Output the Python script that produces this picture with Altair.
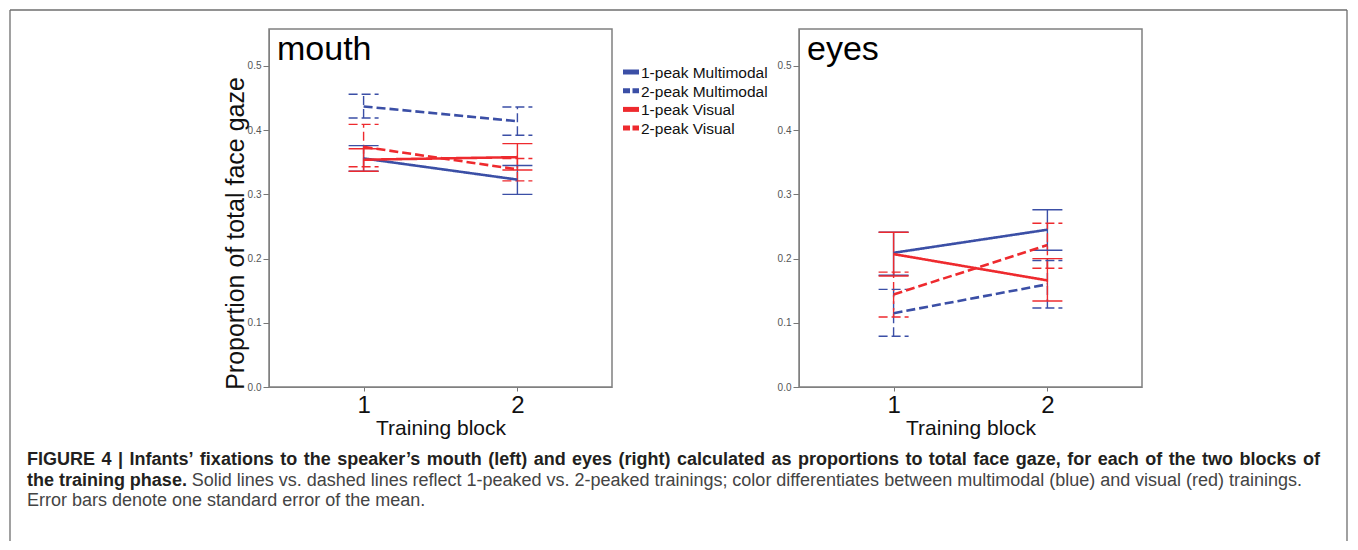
import altair as alt
import pandas as pd

FONT = "Liberation Sans"

# ---- data ----
series_names = ["1-peak Multimodal", "2-peak Multimodal", "1-peak Visual", "2-peak Visual"]
series_colors = ["#3b4fa6", "#3b4fa6", "#ee2a2e", "#ee2a2e"]
series_dash = [[1, 0], [9, 4], [1, 0], [9, 4]]
series_dashed = [False, True, False, True]
blocks = [1, 2]

# mouth panel: mean, lower (mean - SE), upper (mean + SE) for blocks 1 and 2
mouth_1peak_multi = [0.356, 0.323]
mouth_1peak_multi_lo = [0.336, 0.300]
mouth_1peak_multi_hi = [0.376, 0.345]
mouth_2peak_multi = [0.437, 0.414]
mouth_2peak_multi_lo = [0.419, 0.392]
mouth_2peak_multi_hi = [0.456, 0.436]
mouth_1peak_vis = [0.354, 0.358]
mouth_1peak_vis_lo = [0.336, 0.338]
mouth_1peak_vis_hi = [0.371, 0.379]
mouth_2peak_vis = [0.374, 0.339]
mouth_2peak_vis_lo = [0.343, 0.321]
mouth_2peak_vis_hi = [0.409, 0.356]

# eyes panel
eyes_1peak_multi = [0.209, 0.245]
eyes_1peak_multi_lo = [0.174, 0.213]
eyes_1peak_multi_hi = [0.241, 0.276]
eyes_2peak_multi = [0.115, 0.160]
eyes_2peak_multi_lo = [0.079, 0.123]
eyes_2peak_multi_hi = [0.152, 0.197]
eyes_1peak_vis = [0.207, 0.166]
eyes_1peak_vis_lo = [0.173, 0.134]
eyes_1peak_vis_hi = [0.241, 0.200]
eyes_2peak_vis = [0.144, 0.221]
eyes_2peak_vis_lo = [0.109, 0.185]
eyes_2peak_vis_hi = [0.179, 0.255]

panel_titles = ["mouth", "eyes"]
y_ticks = [0.0, 0.1, 0.2, 0.3, 0.4, 0.5]
x_title = "Training block"
y_title = "Proportion of total face gaze"

caption_bold_1 = ("FIGURE 4 | Infants\u2019 fixations to the speaker\u2019s mouth (left) and eyes (right) "
                  "calculated as proportions to total face gaze, for each of the two blocks of")
caption_bold_2 = "the training phase."
caption_reg_2 = ("Solid lines vs. dashed lines reflect 1-peaked vs. 2-peaked trainings; color differentiates "
                 "between multimodal (blue) and visual (red) trainings.")
caption_reg_3 = "Error bars denote one standard error of the mean."

panels = {
    "mouth": [
        (mouth_1peak_multi, mouth_1peak_multi_lo, mouth_1peak_multi_hi),
        (mouth_2peak_multi, mouth_2peak_multi_lo, mouth_2peak_multi_hi),
        (mouth_1peak_vis, mouth_1peak_vis_lo, mouth_1peak_vis_hi),
        (mouth_2peak_vis, mouth_2peak_vis_lo, mouth_2peak_vis_hi),
    ],
    "eyes": [
        (eyes_1peak_multi, eyes_1peak_multi_lo, eyes_1peak_multi_hi),
        (eyes_2peak_multi, eyes_2peak_multi_lo, eyes_2peak_multi_hi),
        (eyes_1peak_vis, eyes_1peak_vis_lo, eyes_1peak_vis_hi),
        (eyes_2peak_vis, eyes_2peak_vis_lo, eyes_2peak_vis_hi),
    ],
}

rows = []
for pname, sers in panels.items():
    for sname, (m, lo, hi) in zip(series_names, sers):
        for i, b in enumerate(blocks):
            rows.append({"panel": pname, "series": sname, "block": b,
                         "mean": m[i], "lo": lo[i], "hi": hi[i]})
df = pd.DataFrame(rows)

W, H = 343, 358
XDOM = [0.385, 2.615]
YDOM = [0.0, 0.5576]

# ---------- caption typesetting (justified lines, Arial/Liberation metrics) ----------
_REG = dict(zip("ABCDEFGHIJKLMNOPQRSTUVWXYZ",
                [667, 667, 722, 722, 667, 611, 778, 722, 278, 500, 667, 556, 833, 722, 778, 667, 778,
                 722, 667, 611, 722, 667, 944, 667, 667, 611]))
_REG.update(zip("abcdefghijklmnopqrstuvwxyz",
                [556, 556, 500, 556, 556, 278, 556, 556, 222, 222, 500, 222, 833, 556, 556, 556, 556,
                 333, 500, 278, 556, 500, 722, 500, 500, 500]))
_REG.update({" ": 278, "(": 333, ")": 333, ",": 278, "-": 333, ".": 278, ";": 278, "|": 260,
             "\u2019": 222})
_REG.update({d: 556 for d in "0123456789"})
_BLD = dict(zip("ABCDEFGHIJKLMNOPQRSTUVWXYZ",
                [722, 722, 722, 722, 667, 611, 778, 722, 278, 556, 722, 611, 833, 722, 778, 667, 778,
                 722, 667, 611, 722, 667, 944, 667, 667, 611]))
_BLD.update(zip("abcdefghijklmnopqrstuvwxyz",
                [556, 611, 556, 611, 556, 333, 611, 611, 278, 278, 556, 278, 889, 611, 611, 611, 611,
                 389, 556, 333, 611, 556, 778, 556, 556, 500]))
_BLD.update({" ": 278, "(": 333, ")": 333, ",": 278, "-": 333, ".": 278, ";": 333, "|": 280,
             "\u2019": 278})
_BLD.update({d: 556 for d in "0123456789"})

CAP_FS = 18


def word_width(w, bold):
    tab = _BLD if bold else _REG
    return sum(tab.get(c, 556) for c in w) * CAP_FS / 1000.0


def justify(segments, x0, x1, y, justified=True):
    """segments: list of (text, bold). Returns rows of word, x, y, bold."""
    words = []
    for text, bold in segments:
        for w in text.split(" "):
            words.append((w, bold))
    widths = [word_width(w, b) for w, b in words]
    nat_gap = 278 * CAP_FS / 1000.0
    if justified and len(words) > 1:
        gap = max(nat_gap * 0.8, (x1 - x0 - sum(widths)) / (len(words) - 1))
    else:
        gap = nat_gap
    out, x = [], x0
    for (w, b), wd in zip(words, widths):
        out.append({"word": w, "x": x, "y": y, "bold": b})
        x += wd + gap
    return out


# caption coordinates relative to the left panel's plot area
cap_rows = (justify([(caption_bold_1, True)], -242, 1051, 436)
            + justify([(caption_bold_2, True), (caption_reg_2, False)], -242, 1033, 457)
            + justify([(caption_reg_3, False)], -242, 0, 477, justified=False))
cap_df = pd.DataFrame(cap_rows)

# legend entries (placed in the gap between the two panels)
LEG_X, LEG_Y0, LEG_DY, LEG_SW = 354, 43, 18.7, 16
leg_df = pd.DataFrame({
    "series": series_names,
    "dashed": series_dashed,
    "x": [LEG_X] * 4,
    "x2": [LEG_X + LEG_SW] * 4,
    "xt": [LEG_X + LEG_SW + 2] * 4,
    "y": [LEG_Y0 + i * LEG_DY for i in range(4)],
})


def decorations():
    """Figure border (top, left, right edges) and caption, placed relative to the left panel."""
    one = alt.Chart(pd.DataFrame({"a": [0]}))
    L, R, T, B = -259, 1078, -19, 512
    edge = dict(stroke="#6e6e6e", strokeWidth=1.3)
    top = one.mark_rule(**edge).encode(x=alt.value(L), x2=alt.value(R), y=alt.value(T))
    lft = one.mark_rule(**edge).encode(x=alt.value(L), y=alt.value(T), y2=alt.value(B))
    rgt = one.mark_rule(**edge).encode(x=alt.value(R), y=alt.value(T), y2=alt.value(B))
    cap = alt.Chart(cap_df)
    tk = dict(align="left", baseline="alphabetic", font=FONT, fontSize=CAP_FS)
    bold = cap.transform_filter("datum.bold").mark_text(fontWeight="bold", color="#231f20", **tk).encode(
        x=alt.X("x:Q", scale=None), y=alt.Y("y:Q", scale=None), text="word:N")
    reg = cap.transform_filter("!datum.bold").mark_text(color="#444", **tk).encode(
        x=alt.X("x:Q", scale=None), y=alt.Y("y:Q", scale=None), text="word:N")
    return [top, lft, rgt, bold, reg]


def legend_layers(color):
    leg = alt.Chart(leg_df)
    solid = leg.transform_filter("!datum.dashed").mark_rule(strokeWidth=5).encode(
        x=alt.X("x:Q", scale=None), x2="x2:Q", y=alt.Y("y:Q", scale=None), color=color)
    dashed = leg.transform_filter("datum.dashed").mark_rule(strokeWidth=5, strokeDash=[7, 2.5]).encode(
        x=alt.X("x:Q", scale=None), x2="x2:Q", y=alt.Y("y:Q", scale=None), color=color)
    labels = leg.mark_text(align="left", baseline="middle", font=FONT, fontSize=15.5,
                           color="#111", dy=1).encode(
        x=alt.X("xt:Q", scale=None), y=alt.Y("y:Q", scale=None), text="series:N")
    return [solid, dashed, labels]


def make_panel(name, show_ytitle, show_legend, extra):
    sub = df[df.panel == name]
    base = alt.Chart(sub)

    xaxis = alt.Axis(values=blocks, format="d", title=x_title, grid=False,
                     labelFontSize=24, labelColor="#111", labelFont=FONT,
                     labelBaseline="alphabetic", labelPadding=21, labelAngle=0,
                     tickSize=4, tickColor="#777", domainColor="#808080",
                     titleFontSize=21, titleFontWeight="normal", titleColor="#111",
                     titleFont=FONT, titleY=47, titleBaseline="alphabetic")

    def xdef():
        return alt.X("block:Q", scale=alt.Scale(domain=XDOM, nice=False, zero=False), axis=xaxis)

    yaxis_kw = dict(values=y_ticks, format=".1f", grid=False,
                    labelFontSize=10, labelColor="#555", labelFont=FONT, labelPadding=2,
                    tickSize=6, tickColor="#777", domainColor="#808080")
    if show_ytitle:
        yaxis = alt.Axis(title=y_title, titleFontSize=25, titleFontWeight="normal",
                         titleColor="#111", titleFont=FONT, titleX=-26, titleY=204,
                         titleAngle=270, titleAlign="center", titleBaseline="alphabetic",
                         **yaxis_kw)
    else:
        yaxis = alt.Axis(title=None, **yaxis_kw)

    def ydef(field):
        return alt.Y(f"{field}:Q", scale=alt.Scale(domain=YDOM, nice=False, zero=False), axis=yaxis)

    color = alt.Color("series:N", scale=alt.Scale(domain=series_names, range=series_colors), legend=None)
    dash = alt.StrokeDash("series:N", scale=alt.Scale(domain=series_names, range=series_dash), legend=None)

    bars = base.mark_rule(strokeWidth=1.4).encode(
        x=xdef(), y=ydef("lo"), y2="hi:Q", color=color, strokeDash=dash)
    cap_lo = base.mark_rule(strokeWidth=1.4, xOffset=-15, x2Offset=15).encode(
        x=xdef(), x2="block:Q", y=ydef("lo"), color=color, strokeDash=dash)
    cap_hi = base.mark_rule(strokeWidth=1.4, xOffset=-15, x2Offset=15).encode(
        x=xdef(), x2="block:Q", y=ydef("hi"), color=color, strokeDash=dash)
    lines = base.mark_line(strokeWidth=2.6).encode(
        x=xdef(), y=ydef("mean"), color=color, strokeDash=dash, order="block:Q")

    title = alt.Chart(pd.DataFrame({"t": [name]})).mark_text(
        align="left", baseline="alphabetic", fontSize=34, font=FONT, color="#000").encode(
        text="t:N", x=alt.value(8), y=alt.value(31))

    layers = [bars, cap_lo, cap_hi, lines, title]
    if show_legend:
        layers += legend_layers(color)
    return alt.layer(*layers, *extra).properties(width=W, height=H)


left = make_panel(panel_titles[0], True, True, decorations())
right = make_panel(panel_titles[1], False, False, [])

chart = alt.hconcat(left, right, spacing=187, bounds="flush").resolve_scale(
    color="independent", strokeDash="independent").properties(
    padding=0, autosize=alt.AutoSizeParams(type="pad")
).configure(font=FONT, background="white").configure_view(stroke="#808080", strokeWidth=1.5)

chart.save("out.html", embed_options={"renderer": "svg", "actions": False})
